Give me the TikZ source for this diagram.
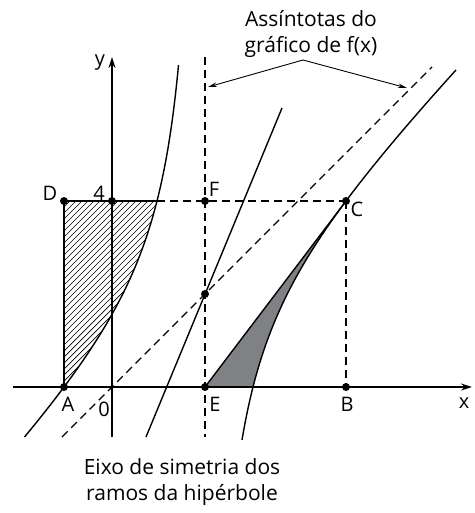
\documentclass[tikz,border=0pt]{standalone}
\usepackage{fontspec}
\setmainfont{Open Sans}
\usetikzlibrary{arrows.meta}
\definecolor{areagray}{RGB}{128,129,133}
\begin{document}
\begin{tikzpicture}[x=1pt,y=-1pt,
  axis/.style={line width=1.3pt,-{Stealth[length=11pt,width=7pt]}},
  curve/.style={line width=1.4pt},
  dashln/.style={line width=1.2pt,dash pattern=on 8pt off 5pt},
  dot/.style={fill=black},
  lbl/.style={font=\fontsize{20}{24}\selectfont,inner sep=0pt},
  note/.style={font=\fontsize{21}{26}\selectfont,align=center,inner sep=0pt},
  pointer/.style={line width=0.9pt,-{Stealth[length=9pt,width=4.5pt]}},
  hatch/.style={line width=0.7pt}]
\useasboundingbox (0,0) rectangle (474,513);
% points
\coordinate (A) at (64,387);
\coordinate (E) at (205,387);
\coordinate (B) at (346,387);
\coordinate (D) at (64,201);
\coordinate (Y4) at (112,201);
\coordinate (F) at (205,201);
\coordinate (C) at (346,201);
\coordinate (H) at (157,201);
\coordinate (G) at (205,294);
\coordinate (O) at (112,387);
% hatched region
\begin{scope}
\clip (D) -- (H) -- plot[domain=-48:-141,samples=60] ({205+\x},{294-\x+6768/\x}) -- cycle;
\foreach \s in {-200,-194,...,170} \draw[hatch] (\s,387) -- ++(200,-200);
\end{scope}
% gray region
\fill[areagray] (E) -- (C) -- plot[domain=141:48,samples=60] ({205+\x},{294-\x+6768/\x}) -- cycle;
% axes
\coordinate (xs) at (13,387);
\coordinate (xe) at (472,387);
\coordinate (ys) at (112,437);
\coordinate (ye) at (112,57);
\draw[axis] (xs) -- (xe);
\draw[axis] (ys) -- (ye);
% asymptotes
\coordinate (v1) at (205,57);
\coordinate (v2) at (205,437);
\draw[dashln] (v1) -- (v2);
\coordinate (o1) at (62,437);
\coordinate (o2) at (432,67);
\draw[dashln] (o1) -- (o2);
% symmetry axis
\coordinate (s1) at (146,437);
\coordinate (s2) at (282,108);
\draw[curve] (s1) -- (s2);
% hyperbola branches
\draw[curve] plot[domain=37:251,samples=150] ({205+\x},{294-\x+6768/\x});
\draw[curve] plot[domain=-180.5:-26.5,samples=150] ({205+\x},{294-\x+6768/\x});
% rectangle and dashed guides
\draw[curve] (A) -- (D) -- (H);
\draw[dashln] (H) -- (C);
\draw[dashln] (C) -- (B);
\draw[curve] (E) -- (C);
% dots
\foreach \p in {A,E,B,D,Y4,F,C,G} \fill[dot] (\p) circle (4);
% labels
\node[lbl] (ly) at (100,63) {y};
\node[lbl] (lx) at (464,403) {x};
\node[lbl] (lD) at (50,193) {D};
\node[lbl] (l4) at (99,193) {4};
\node[lbl] (lF) at (214,189) {F};
\node[lbl] (lC) at (357,209) {C};
\node[lbl] (lA) at (68,404) {A};
\node[lbl] (l0) at (104,409) {0};
\node[lbl] (lE) at (215,404) {E};
\node[lbl] (lB) at (347,404) {B};
% annotations
\node[note] (asym) at (311,34) {Assíntotas do\\gráfico de f(x)};
\coordinate (apex) at (303,60);
\coordinate (t1) at (208,87);
\coordinate (t2) at (407,88);
\draw[pointer] (apex) -- (t1);
\draw[pointer] (apex) -- (t2);
\node[note] (axislbl) at (182,482) {Eixo de simetria dos\\ramos da hipérbole};
\end{tikzpicture}
\end{document}
